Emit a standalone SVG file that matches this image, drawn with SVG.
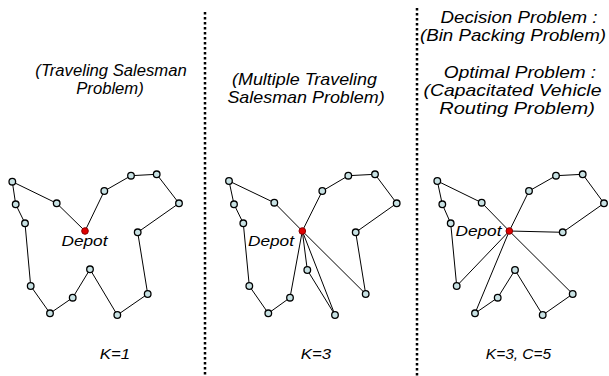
<svg xmlns="http://www.w3.org/2000/svg" width="609" height="376" viewBox="0 0 609 376">
<style>
.lbl{font-family:"Liberation Sans",Arial,sans-serif;font-style:italic;font-size:15px;fill:#000;text-anchor:middle}
.ttl{font-family:"Liberation Sans",Arial,sans-serif;font-style:italic;font-size:16px;fill:#000;text-anchor:middle}
.e{stroke:#000;stroke-width:1;fill:none}
.sep{stroke:#000;stroke-width:2.5;stroke-dasharray:2.5 2.5}
.n{fill:#c8e2e4;stroke:#000;stroke-width:1.3}
.d{fill:#e00000;stroke:#800;stroke-width:1}
</style>
<rect width="609" height="376" fill="#fff"/>
<g id="separators">
<line class="sep" x1="205" y1="12" x2="205" y2="376"/>
<line class="sep" x1="417" y1="8" x2="417" y2="376"/>
</g>
<g id="connectors">
<polyline class="e" points="85,231 56.7,203.3 12.3,181.7 15.7,204.3 25,223.3 30.7,286 50,313.3 72.7,297.7 90,269.3 117.3,315 147.7,294 137.7,232.3 179,203.3 156.7,174.3 131,175.7 104.3,191 85,231"/>
<polyline class="e" points="302.3,231 274.3,202.7 229,181 234,204.3 243.3,223.3 249.3,286 268.3,313.3 290,297.7 302.3,231"/>
<polyline class="e" points="302.3,231 307.3,270 335,315 302.3,231"/>
<polyline class="e" points="302.3,231 365.7,294 355.7,232.3 396.7,203.3 375,174.3 348.3,175.7 322.3,191 302.3,231"/>
<polyline class="e" points="509.3,231 481.7,202.7 437.3,181 442.3,204.3 450.7,223.3 456.7,286 509.3,231"/>
<polyline class="e" points="509.3,231 475,313.3 497.7,297.7 515,270 542.7,315 572.7,294 509.3,231"/>
<polyline class="e" points="509.3,231 562.7,232.3 604,203.3 582.7,174.3 556,175.7 529,191 509.3,231"/>
</g>
<g id="panel1-nodes">
<g id="p1-n1"><circle class="n" cx="56.7" cy="203.3" r="3.3"/></g>
<g id="p1-n2"><circle class="n" cx="12.3" cy="181.7" r="3.3"/></g>
<g id="p1-n3"><circle class="n" cx="15.7" cy="204.3" r="3.3"/></g>
<g id="p1-n4"><circle class="n" cx="25" cy="223.3" r="3.3"/></g>
<g id="p1-n5"><circle class="n" cx="30.7" cy="286" r="3.3"/></g>
<g id="p1-n6"><circle class="n" cx="50" cy="313.3" r="3.3"/></g>
<g id="p1-n7"><circle class="n" cx="72.7" cy="297.7" r="3.3"/></g>
<g id="p1-n8"><circle class="n" cx="90" cy="269.3" r="3.3"/></g>
<g id="p1-n9"><circle class="n" cx="117.3" cy="315" r="3.3"/></g>
<g id="p1-n10"><circle class="n" cx="147.7" cy="294" r="3.3"/></g>
<g id="p1-n11"><circle class="n" cx="137.7" cy="232.3" r="3.3"/></g>
<g id="p1-n12"><circle class="n" cx="179" cy="203.3" r="3.3"/></g>
<g id="p1-n13"><circle class="n" cx="156.7" cy="174.3" r="3.3"/></g>
<g id="p1-n14"><circle class="n" cx="131" cy="175.7" r="3.3"/></g>
<g id="p1-n15"><circle class="n" cx="104.3" cy="191" r="3.3"/></g>
<g id="p1-depot"><circle class="d" cx="85" cy="231" r="3.3"/><text class="lbl" transform="translate(84.5,246) scale(1.15,1)">Depot</text></g>
</g>
<g id="panel2-nodes">
<g id="p2-n1"><circle class="n" cx="274.3" cy="202.7" r="3.3"/></g>
<g id="p2-n2"><circle class="n" cx="229" cy="181" r="3.3"/></g>
<g id="p2-n3"><circle class="n" cx="234" cy="204.3" r="3.3"/></g>
<g id="p2-n4"><circle class="n" cx="243.3" cy="223.3" r="3.3"/></g>
<g id="p2-n5"><circle class="n" cx="249.3" cy="286" r="3.3"/></g>
<g id="p2-n6"><circle class="n" cx="268.3" cy="313.3" r="3.3"/></g>
<g id="p2-n7"><circle class="n" cx="290" cy="297.7" r="3.3"/></g>
<g id="p2-n8"><circle class="n" cx="307.3" cy="270" r="3.3"/></g>
<g id="p2-n9"><circle class="n" cx="335" cy="315" r="3.3"/></g>
<g id="p2-n10"><circle class="n" cx="365.7" cy="294" r="3.3"/></g>
<g id="p2-n11"><circle class="n" cx="355.7" cy="232.3" r="3.3"/></g>
<g id="p2-n12"><circle class="n" cx="396.7" cy="203.3" r="3.3"/></g>
<g id="p2-n13"><circle class="n" cx="375" cy="174.3" r="3.3"/></g>
<g id="p2-n14"><circle class="n" cx="348.3" cy="175.7" r="3.3"/></g>
<g id="p2-n15"><circle class="n" cx="322.3" cy="191" r="3.3"/></g>
<g id="p2-depot"><circle class="d" cx="302.3" cy="231" r="3.3"/><text class="lbl" transform="translate(271,246) scale(1.15,1)">Depot</text></g>
</g>
<g id="panel3-nodes">
<g id="p3-n1"><circle class="n" cx="481.7" cy="202.7" r="3.3"/></g>
<g id="p3-n2"><circle class="n" cx="437.3" cy="181" r="3.3"/></g>
<g id="p3-n3"><circle class="n" cx="442.3" cy="204.3" r="3.3"/></g>
<g id="p3-n4"><circle class="n" cx="450.7" cy="223.3" r="3.3"/></g>
<g id="p3-n5"><circle class="n" cx="456.7" cy="286" r="3.3"/></g>
<g id="p3-n6"><circle class="n" cx="475" cy="313.3" r="3.3"/></g>
<g id="p3-n7"><circle class="n" cx="497.7" cy="297.7" r="3.3"/></g>
<g id="p3-n8"><circle class="n" cx="515" cy="270" r="3.3"/></g>
<g id="p3-n9"><circle class="n" cx="542.7" cy="315" r="3.3"/></g>
<g id="p3-n10"><circle class="n" cx="572.7" cy="294" r="3.3"/></g>
<g id="p3-n11"><circle class="n" cx="562.7" cy="232.3" r="3.3"/></g>
<g id="p3-n12"><circle class="n" cx="604" cy="203.3" r="3.3"/></g>
<g id="p3-n13"><circle class="n" cx="582.7" cy="174.3" r="3.3"/></g>
<g id="p3-n14"><circle class="n" cx="556" cy="175.7" r="3.3"/></g>
<g id="p3-n15"><circle class="n" cx="529" cy="191" r="3.3"/></g>
<g id="p3-depot"><text class="lbl" transform="translate(478.5,236) scale(1.15,1)">Depot</text><circle class="d" cx="509.3" cy="231" r="3.3"/></g>
</g>
<g id="titles">
<g id="title1">
<text class="ttl" transform="translate(111,76) scale(1.04,1)">(Traveling Salesman</text>
<text class="ttl" transform="translate(110,94) scale(1.04,1)">Problem)</text>
</g>
<g id="title2">
<text class="ttl" transform="translate(304.5,85) scale(1.12,1)">(Multiple Traveling</text>
<text class="ttl" transform="translate(306,103) scale(1.12,1)">Salesman Problem)</text>
</g>
<g id="title3">
<text class="ttl" transform="translate(519,23) scale(1.17,1)">Decision Problem :</text>
<text class="ttl" transform="translate(513,41) scale(1.17,1)">(Bin Packing Problem)</text>
<text class="ttl" transform="translate(520,78) scale(1.19,1)">Optimal Problem :</text>
<text class="ttl" transform="translate(512.5,96) scale(1.21,1)">(Capacitated Vehicle</text>
<text class="ttl" transform="translate(517,114) scale(1.25,1)">Routing Problem)</text>
</g>
</g>
<g id="captions">
<text class="lbl" transform="translate(115,359) scale(1.12,1)">K=1</text>
<text class="lbl" transform="translate(316,359) scale(1.12,1)">K=3</text>
<text class="lbl" transform="translate(518.5,359) scale(1.03,1)">K=3, C=5</text>
</g>
</svg>
